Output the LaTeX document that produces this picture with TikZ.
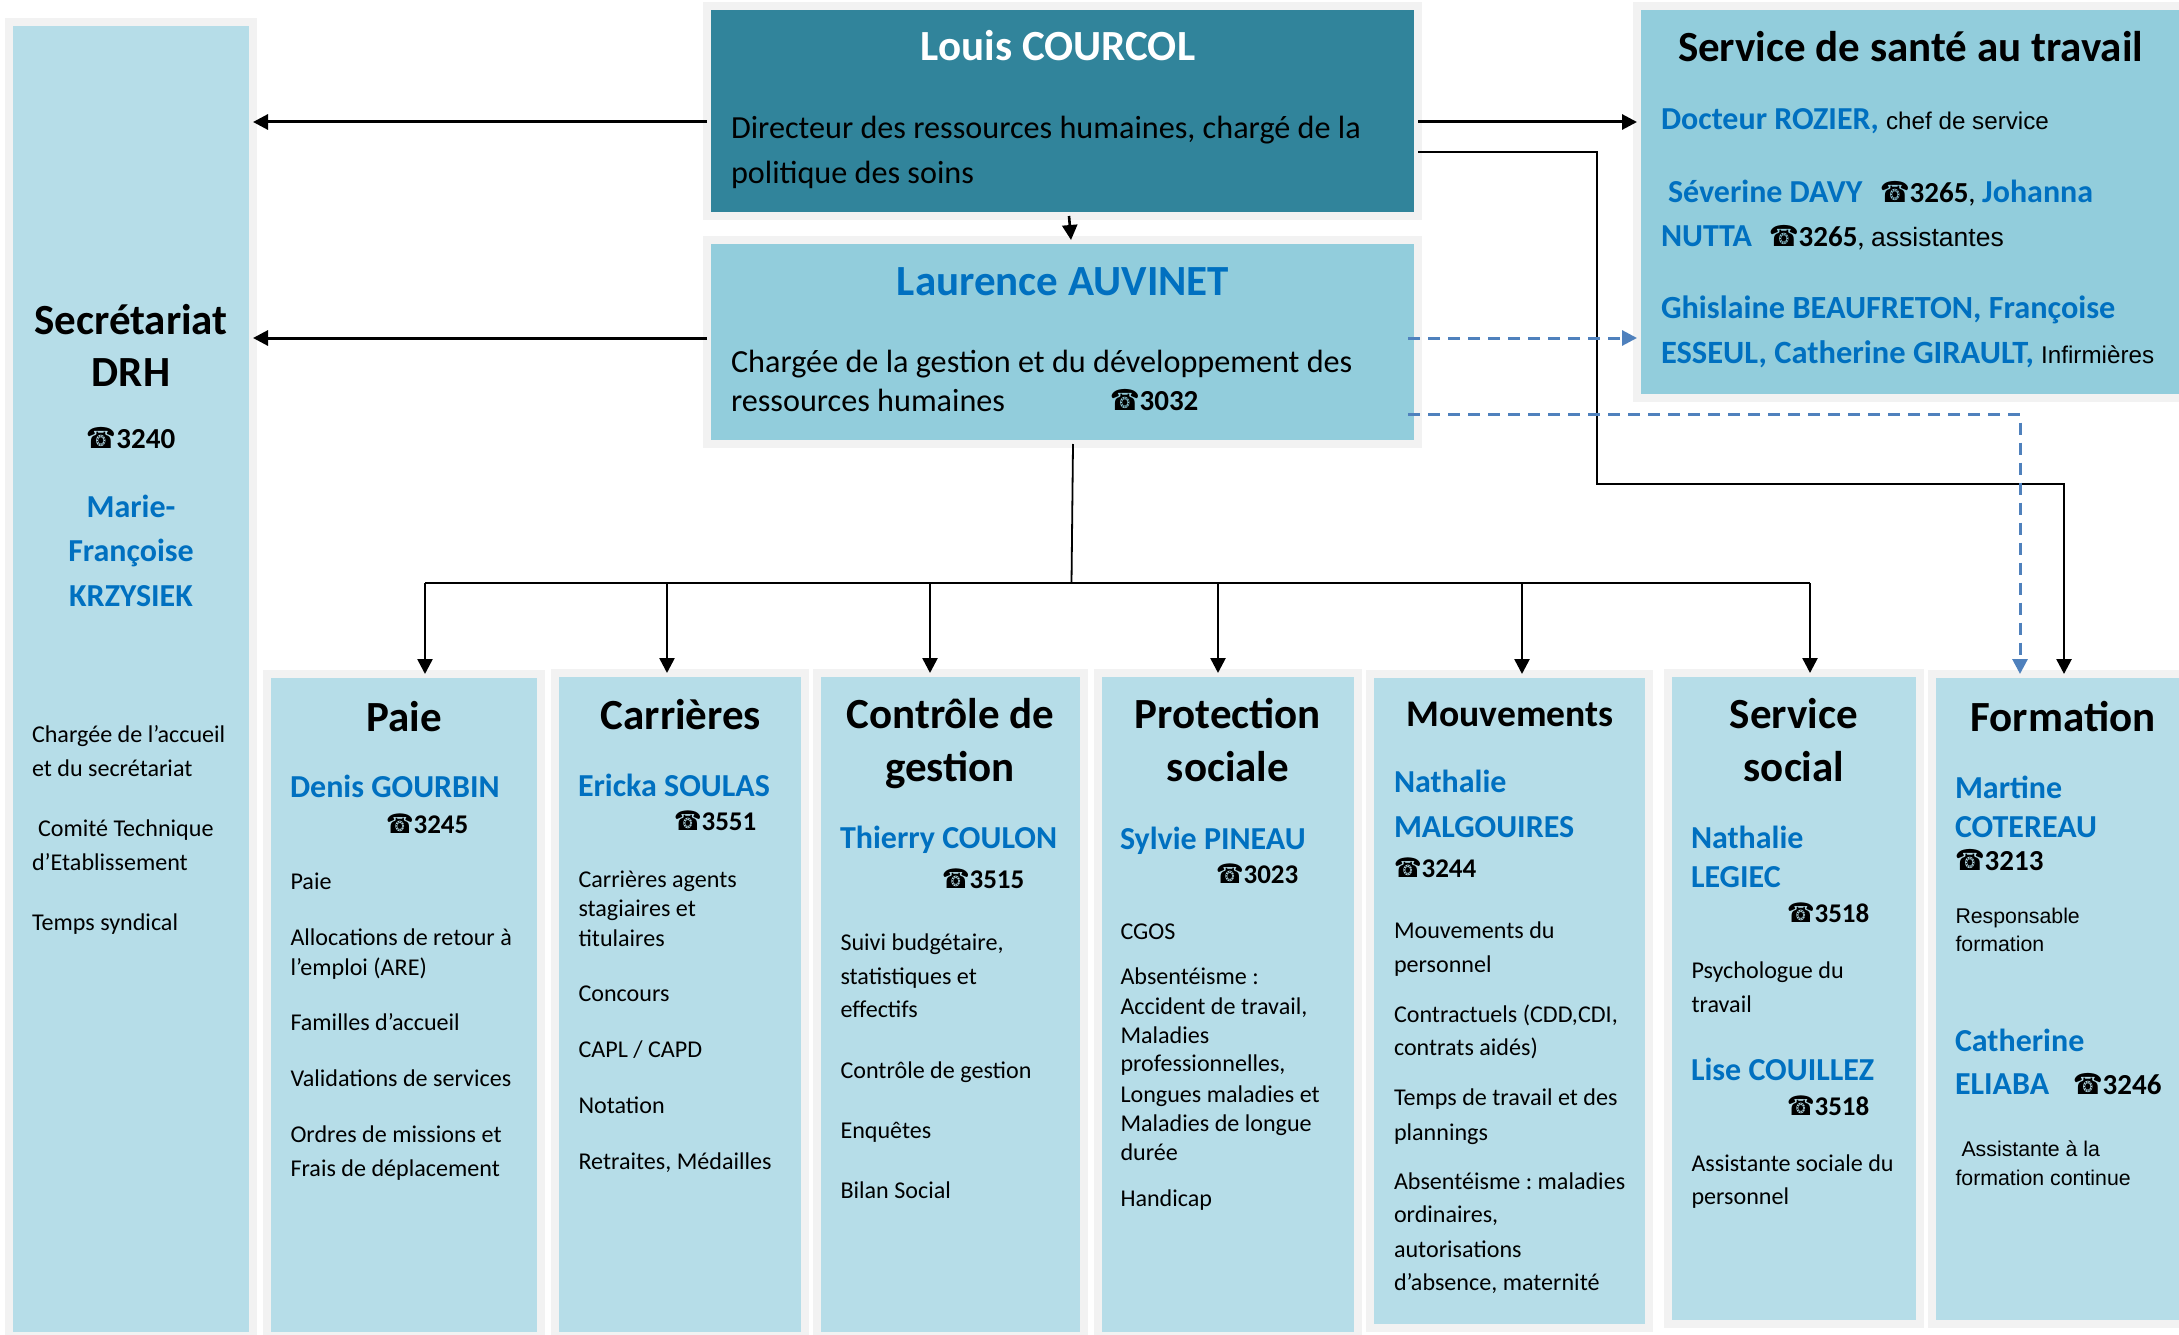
\documentclass[tikz,border=0pt]{standalone}
\usepackage{fontspec}
\setmainfont{Carlito}
\newfontfamily\phonefont{DejaVu Sans}
\newfontfamily\arialfont{Liberation Sans}
\usetikzlibrary{arrows.meta}
\frenchspacing
\definecolor{darkTeal}{HTML}{31849B}
\definecolor{midBlue}{HTML}{92CDDC}
\definecolor{paleBlue}{HTML}{B6DDE8}
\definecolor{edgeGray}{HTML}{F2F2F2}
\definecolor{nameBlue}{HTML}{0070C0}
\definecolor{dashBlue}{HTML}{4F81BD}
\newcommand{\telmark}[1]{\scalebox{0.82}[1]{\phonefont\char"260E}\textbf{#1}}
\tikzset{
  unitbox/.style={draw=edgeGray,line width=8pt,inner sep=0pt,outer sep=0pt},
  headtext/.style={anchor=base,inner sep=0pt,outer sep=0pt,yshift=-1.5pt,font=\fontsize{43}{50}\selectfont\bfseries},
  nametext/.style={anchor=base west,inner sep=0pt,outer sep=0pt,yshift=-1.5pt,text=nameBlue,font=\fontsize{32}{38}\selectfont\bfseries},
  itemtext/.style={anchor=base west,inner sep=0pt,outer sep=0pt,yshift=-1.5pt,xshift=0.5pt,font=\fontsize{24.1}{29}\selectfont},
  arialtext/.style={itemtext,font=\arialfont\fontsize{21.3}{26}\selectfont},
  leadtext/.style={anchor=base west,inner sep=0pt,outer sep=0pt,yshift=-1.5pt,font=\fontsize{32.2}{38}\selectfont},
  teltext/.style={anchor=base west,inner sep=0pt,outer sep=0pt,yshift=-1.5pt,font=\fontsize{27}{32}\selectfont},
  bigtel/.style={teltext,font=\fontsize{29}{34}\selectfont},
  solidline/.style={draw=black,line width=2.6pt},
  arrowline/.style={solidline,-{Triangle[length=15pt,width=15pt]}},
  dashline/.style={draw=dashBlue,line width=3pt,dash pattern=on 12pt off 8pt,-{Triangle[length=15pt,width=15pt]}}
}
\begin{document}
\begin{tikzpicture}[x=1pt,y=-1pt]
\useasboundingbox (0,0) rectangle (2179,1335);

% boxes
\node[unitbox,fill=paleBlue,minimum width=244pt,minimum height=1314pt] (secr) at (131,679) {};
\node[unitbox,fill=darkTeal,minimum width=711pt,minimum height=210pt] (louis) at (1062.5,111) {};
\node[unitbox,fill=midBlue,minimum width=711pt,minimum height=204pt] (laurence) at (1062.5,342) {};
\node[unitbox,fill=midBlue,minimum width=563pt,minimum height=392pt] (sante) at (1918.5,202) {};
\node[unitbox,fill=paleBlue,minimum width=274pt,minimum height=662pt] (paie) at (404,1005) {};
\node[unitbox,fill=paleBlue,minimum width=250pt,minimum height=663pt] (carrieres) at (680,1004.5) {};
\node[unitbox,fill=paleBlue,minimum width=267pt,minimum height=663pt] (controle) at (950.5,1004.5) {};
\node[unitbox,fill=paleBlue,minimum width=260pt,minimum height=663pt] (protection) at (1228,1004.5) {};
\node[unitbox,fill=paleBlue,minimum width=279pt,minimum height=654pt] (mouvements) at (1509.5,1001) {};
\node[unitbox,fill=paleBlue,minimum width=252pt,minimum height=651pt] (social) at (1794,998.5) {};
\node[unitbox,fill=paleBlue,minimum width=268pt,minimum height=650pt] (formation) at (2066,999) {};

% connectors
\coordinate (bus) at (1071.5,583);
\coordinate (dashtop) at (1408,338);
\coordinate (dashlow) at (1408,414.5);
\draw[arrowline,line width=3pt] (louis.west |- 0,122) -- (secr.east |- 0,122);
\draw[arrowline,line width=3pt] (laurence.west |- 0,338) -- (secr.east |- 0,338);
\draw[arrowline,line width=3pt] (louis.east |- 0,122) -- (sante.west |- 0,122);
\draw[arrowline] (1069,0 |- louis.south) -- (1071,0 |- laurence.north);
\draw[arrowline] (louis.east |- 0,152) -- (1597,152) -- (1597,484) -- (2064,484) -- (2064,0 |- formation.north);
\draw[dashline] (dashtop) -- (sante.west |- dashtop);
\draw[dashline] (dashlow) -- (2020,414.5) -- (2020,0 |- formation.north);
\draw[solidline,line width=1.8pt] (1073,0 |- laurence.south) -- (bus);
\draw[solidline] (425,0 |- bus) -- (1810,0 |- bus);
\draw[arrowline] (425,0 |- bus) -- (425,0 |- paie.north);
\draw[arrowline] (667,0 |- bus) -- (667,0 |- carrieres.north);
\draw[arrowline] (930,0 |- bus) -- (930,0 |- controle.north);
\draw[arrowline] (1218,0 |- bus) -- (1218,0 |- protection.north);
\draw[arrowline] (1522,0 |- bus) -- (1522,0 |- mouvements.north);
\draw[arrowline] (1810,0 |- bus) -- (1810,0 |- social.north);

% director
\node[headtext,text=white] (louisname) at (1058,59) {Louis COURCOL};
\node[leadtext] (louisjob) at (731,137) {Directeur des ressources humaines, chargé de la};
\node[leadtext] (louisjobb) at (731,182) {politique des soins};

% deputy
\node[headtext,text=nameBlue] (laurencename) at (1063,294) {Laurence AUVINET};
\node[leadtext] (laurencejob) at (731,371) {Chargée de la gestion et du développement des};
\node[leadtext] (laurencejobb) at (731,410) {ressources humaines};
\node[bigtel] (laurencetel) at (1110,408.5) {\telmark{3032}};

% health service
\node[headtext,anchor=base west] (santehead) at (1678,60) {Service de santé au travail};
\node[nametext] (rozier) at (1661,128) {Docteur ROZIER, {\arialfont\mdseries\color{black}\fontsize{24.2}{28}\selectfont chef de service}};
\node[nametext] (davy) at (1668,200.5) {Séverine DAVY};
\node[bigtel] (davytel) at (1880,200.5) {\telmark{3265}, {\color{nameBlue}\fontsize{32}{38}\selectfont\bfseries Johanna}};
\node[nametext] (nutta) at (1661,244.5) {NUTTA};
\node[bigtel] (nuttatel) at (1769,244.5) {\telmark{3265}, {\arialfont\fontsize{26.5}{30}\selectfont assistantes}};
\node[nametext,font=\fontsize{32.3}{38}\selectfont\bfseries] (beaufreton) at (1661,317) {Ghislaine BEAUFRETON, Françoise};
\node[nametext,font=\fontsize{32.5}{38}\selectfont\bfseries] (esseul) at (1661,362) {ESSEUL, Catherine GIRAULT, {\arialfont\mdseries\color{black}\fontsize{24.2}{28}\selectfont Infirmières}};

% secretariat
\node[headtext] (secrhead) at (131,333) {Secrétariat};
\node[headtext] (secrheadb) at (131,385) {DRH};
\node[bigtel,anchor=base] (secrtel) at (131,447) {\telmark{3240}};
\node[nametext,anchor=base] (secrname) at (131,515.5) {Marie-};
\node[nametext,anchor=base] (secrnameb) at (131,560) {Françoise};
\node[nametext,anchor=base] (secrnamec) at (131,604.5) {KRZYSIEK};
\node[itemtext] (secrA) at (31.5,741) {Chargée de l’accueil};
\node[itemtext] (secrB) at (31.5,775) {et du secrétariat};
\node[itemtext] (secrC) at (37.5,835) {Comité Technique};
\node[itemtext] (secrD) at (31.5,869) {d’Etablissement};
\node[itemtext] (secrE) at (31.5,929) {Temps syndical};

% paie
\node[headtext] (paiehead) at (404,730) {Paie};
\node[nametext] (paiename) at (290,796) {Denis GOURBIN};
\node[teltext] (paietel) at (386,832) {\telmark{3245}};
\node[itemtext] (paieA) at (290,888) {Paie};
\node[itemtext] (paieB) at (290,944) {Allocations de retour à};
\node[itemtext] (paieC) at (290,974) {l’emploi (ARE)};
\node[itemtext] (paieD) at (290,1029) {Familles d’accueil};
\node[itemtext] (paieE) at (290,1085) {Validations de services};
\node[itemtext] (paieF) at (290,1141) {Ordres de missions et};
\node[itemtext] (paieG) at (290,1175) {Frais de déplacement};

% carrieres
\node[headtext] (carrhead) at (681,728) {Carrières};
\node[nametext] (carrname) at (578,795) {Ericka SOULAS};
\node[teltext] (carrtel) at (674,829) {\telmark{3551}};
\node[itemtext] (carrA) at (578,886) {Carrières agents};
\node[itemtext] (carrB) at (578,915) {stagiaires et};
\node[itemtext] (carrC) at (578,945) {titulaires};
\node[itemtext] (carrD) at (578,1000) {Concours};
\node[itemtext] (carrE) at (578,1056) {CAPL / CAPD};
\node[itemtext] (carrF) at (578,1112) {Notation};
\node[itemtext] (carrG) at (578,1168) {Retraites, Médailles};

% controle
\node[headtext] (conthead) at (950.5,727) {Contrôle de};
\node[headtext] (contheadb) at (950,780) {gestion};
\node[nametext] (contname) at (840,846.5) {Thierry COULON};
\node[teltext] (conttel) at (942,887) {\telmark{3515}};
\node[itemtext] (contA) at (840,949) {Suivi budgétaire,};
\node[itemtext] (contB) at (840,983) {statistiques et};
\node[itemtext] (contC) at (840,1016) {effectifs};
\node[itemtext] (contD) at (840,1077) {Contrôle de gestion};
\node[itemtext] (contE) at (840,1137) {Enquêtes};
\node[itemtext] (contF) at (840,1197) {Bilan Social};

% protection
\node[headtext] (prothead) at (1228,727) {Protection};
\node[headtext] (protheadb) at (1228,780) {sociale};
\node[nametext] (protname) at (1120,848) {Sylvie PINEAU};
\node[teltext] (prottel) at (1216,882) {\telmark{3023}};
\node[itemtext] (protA) at (1120,938) {CGOS};
\node[itemtext] (protB) at (1120,983) {Absentéisme :};
\node[itemtext] (protC) at (1120,1013) {Accident de travail,};
\node[itemtext] (protD) at (1120,1042) {Maladies};
\node[itemtext] (protE) at (1120,1070) {professionnelles,};
\node[itemtext] (protF) at (1120,1101) {Longues maladies et};
\node[itemtext] (protG) at (1120,1130) {Maladies de longue};
\node[itemtext] (protH) at (1120,1159) {durée};
\node[itemtext] (protI) at (1120,1205) {Handicap};

% mouvements
\node[headtext,font=\fontsize{37.6}{44}\selectfont\bfseries] (mouvhead) at (1510,725) {Mouvements};
\node[nametext] (mouvname) at (1394,790.5) {Nathalie};
\node[nametext] (mouvnameb) at (1394,835.5) {MALGOUIRES};
\node[teltext] (mouvtel) at (1394,876) {\telmark{3244}};
\node[itemtext] (mouvA) at (1393.5,936.5) {Mouvements du};
\node[itemtext] (mouvB) at (1393.5,970.5) {personnel};
\node[itemtext] (mouvC) at (1393.5,1021) {Contractuels (CDD,CDI,};
\node[itemtext] (mouvD) at (1393.5,1054) {contrats aidés)};
\node[itemtext] (mouvE) at (1393.5,1104) {Temps de travail et des};
\node[itemtext] (mouvF) at (1393.5,1139) {plannings};
\node[itemtext] (mouvG) at (1393.5,1187.5) {Absentéisme : maladies};
\node[itemtext] (mouvH) at (1393.5,1221) {ordinaires,};
\node[itemtext] (mouvI) at (1393.5,1255.5) {autorisations};
\node[itemtext] (mouvJ) at (1393.5,1289) {d’absence, maternité};

% service social
\node[headtext] (sochead) at (1794,727) {Service};
\node[headtext] (socheadb) at (1794,780) {social};
\node[nametext] (socname) at (1691,846.5) {Nathalie};
\node[nametext] (socnameb) at (1691,885.5) {LEGIEC};
\node[teltext] (soctel) at (1787,921) {\telmark{3518}};
\node[itemtext] (socA) at (1691,977) {Psychologue du};
\node[itemtext] (socB) at (1691,1011) {travail};
\node[nametext] (socnamec) at (1691,1078.5) {Lise COUILLEZ};
\node[teltext] (soctelb) at (1787,1114) {\telmark{3518}};
\node[itemtext] (socC) at (1691,1170) {Assistante sociale du};
\node[itemtext] (socD) at (1691,1203) {personnel};

% formation
\node[headtext] (formhead) at (2063,730) {Formation};
\node[nametext] (formname) at (1955,796.5) {Martine};
\node[nametext] (formnameb) at (1955,835.5) {COTEREAU};
\node[bigtel] (formtel) at (1955,869) {\telmark{3213}};
\node[arialtext] (formA) at (1955,922) {Responsable};
\node[arialtext] (formB) at (1955,949.5) {formation};
\node[nametext] (formnamec) at (1955,1050) {Catherine};
\node[nametext] (formnamed) at (1955,1093) {ELIABA};
\node[bigtel] (formtelb) at (2073,1093) {\telmark{3246}};
\node[arialtext] (formC) at (1961,1155) {Assistante à la};
\node[arialtext] (formD) at (1955,1184) {formation continue};
\end{tikzpicture}
\end{document}
